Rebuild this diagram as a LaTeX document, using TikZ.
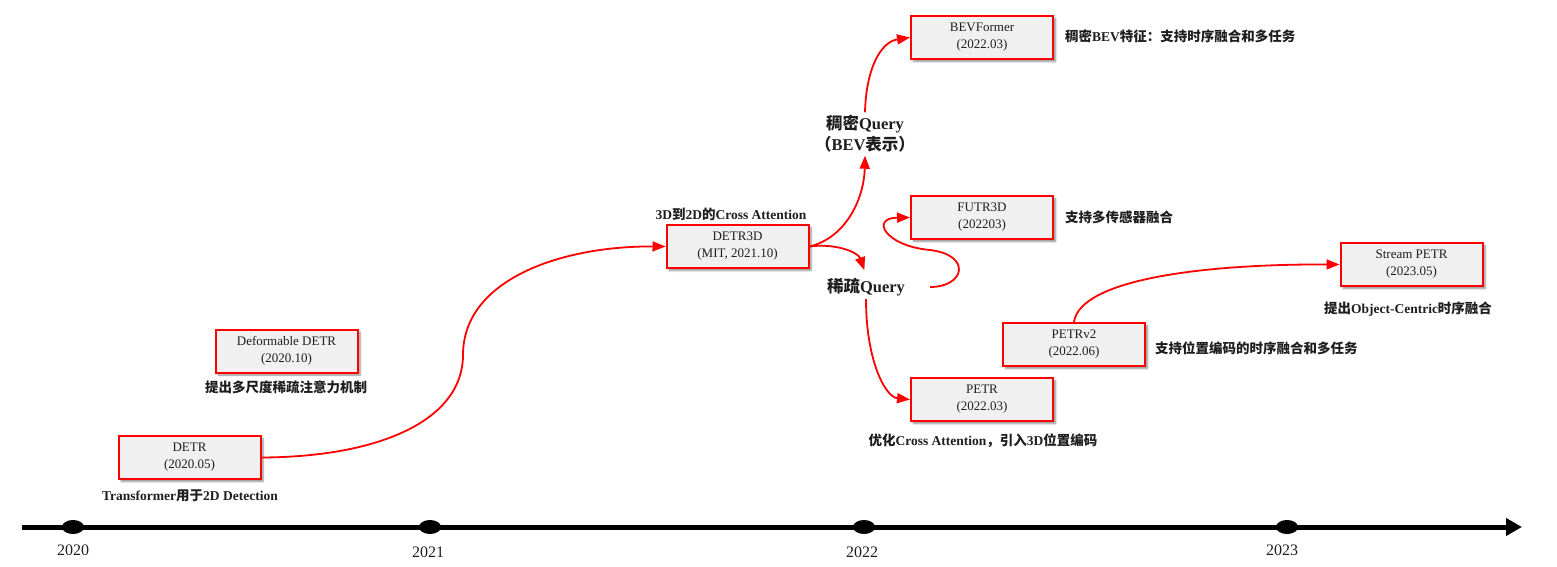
\documentclass[tikz,border=0pt]{standalone}
\usepackage{fontspec}
\setmainfont{Liberation Serif}
\newfontfamily\cjk{Noto Sans CJK SC}
\usetikzlibrary{arrows.meta,shapes.geometric,shadows.blur}
\definecolor{boxred}{RGB}{255,0,0}
\definecolor{boxfill}{RGB}{240,240,240}
\definecolor{txt}{RGB}{30,30,30}
\tikzset{
  paper/.style={draw=boxred, line width=2pt, fill=boxfill, minimum width=142pt, minimum height=43pt,
    align=center, font=\fontsize{13}{17}\selectfont, text=txt, inner sep=2pt,
    blur shadow={shadow xshift=2.5pt, shadow yshift=-2.5pt, shadow blur steps=6, shadow opacity=45}},
  note/.style={font=\fontsize{13.5}{16}\selectfont\bfseries, text=txt, inner sep=0pt},
  qlabel/.style={font=\fontsize{16.5}{21}\selectfont\bfseries, text=txt, align=center, inner sep=3pt},
  conn/.style={draw=boxred, line width=1.8pt, -{Triangle[length=13pt,width=10pt]}},
  yeardot/.style={ellipse, fill=black, minimum width=22pt, minimum height=14pt, inner sep=0pt},
  year/.style={font=\fontsize{16}{18}\selectfont, text=txt, inner sep=0pt},
}
\begin{document}
\begin{tikzpicture}[x=1pt, y=-1pt]
\useasboundingbox (0,0) rectangle (1557,567);

% timeline
\coordinate (tlstart) at (22,527);
\coordinate (tlend) at (1522,527);
\draw[line width=5pt, -{Triangle[length=16pt,width=17pt]}] (tlstart) -- (tlend);
\node[yeardot] (d2020) at (73,527) {};
\node[yeardot] (d2021) at (430,527) {};
\node[yeardot] (d2022) at (864,527) {};
\node[yeardot] (d2023) at (1287,527) {};
\node[year] (y2020) at (73,550) {2020};
\node[year] (y2021) at (428,552) {2021};
\node[year] (y2022) at (862,552) {2022};
\node[year] (y2023) at (1282,550) {2023};

% boxes
\node[paper] (detr) at (189.5,457.5) {DETR\\(2020.05)};
\node[paper] (ddetr) at (286.5,351) {Deformable DETR\\(2020.10)};
\node[paper] (detr3d) at (737.5,246.5) {DETR3D\\(MIT, 2021.10)};
\node[paper] (bev) at (982,37.5) {BEVFormer\\(2022.03)};
\node[paper] (futr) at (982,217.5) {FUTR3D\\(202203)};
\node[paper] (petr) at (982,399.5) {PETR\\(2022.03)};
\node[paper] (petrv2) at (1074,344.5) {PETRv2\\(2022.06)};
\node[paper] (stream) at (1411.5,264.5) {Stream PETR\\(2023.05)};

% notes
\node[note] (ndetr) at (190,496) {Transformer{\cjk 用于}2D Detection};
\node[note] (nddetr) at (286,387) {{\cjk 提出多尺度稀疏注意力机制}};
\node[note] (ndetr3d) at (731,214) {3D{\cjk 到}2D{\cjk 的}Cross Attention};
\node[note, anchor=west] (nbev) at (1065,36) {{\cjk 稠密}BEV{\cjk 特征：支持时序融合和多任务}};
\node[note, anchor=west] (nfutr) at (1065,217) {{\cjk 支持多传感器融合}};
\node[note, anchor=west] (npetrv2) at (1155,348) {{\cjk 支持位置编码的时序融合和多任务}};
\node[note] (nstream) at (1408,309) {{\cjk 提出}Object-Centric{\cjk 时序融合}};
\node[note] (npetr) at (983,441) {{\cjk 优化}Cross Attention{\cjk ，引入}3D{\cjk 位置编码}};

% query labels
\node[qlabel] (dense) at (865,134) {{\cjk 稠密}Query\\{\cjk （}BEV{\cjk 表示）}};
\node[qlabel] (sparse) at (866,287) {{\cjk 稀疏}Query};

% connectors
\coordinate (mid1) at (463,355);
\draw[conn] (detr.east) .. controls (380,457) and (463,420) .. (mid1)
  .. controls (463,280) and (560,246) .. (detr3d.west);
\draw[conn] (detr3d.east) .. controls (845,238) and (864,200) .. (dense.south);
\draw[conn] (dense.north) .. controls (866,70) and (880,42) .. (bev.west);
\draw[conn, shorten >=5pt] (detr3d.east) .. controls (835,243) and (858,252) .. (sparse.north);
\draw[conn] (sparse.south) .. controls (866,360) and (885,397) .. (petr.west);
\coordinate (loopmid) at (930,250);
\draw[conn, shorten <=22pt] (sparse.east) .. controls (965,287) and (972,255) .. (loopmid)
  .. controls (885,246) and (870,218) .. (futr.west);
\draw[conn] (petrv2.north) .. controls (1080,280) and (1200,264) .. (stream.west);
\end{tikzpicture}
\end{document}
